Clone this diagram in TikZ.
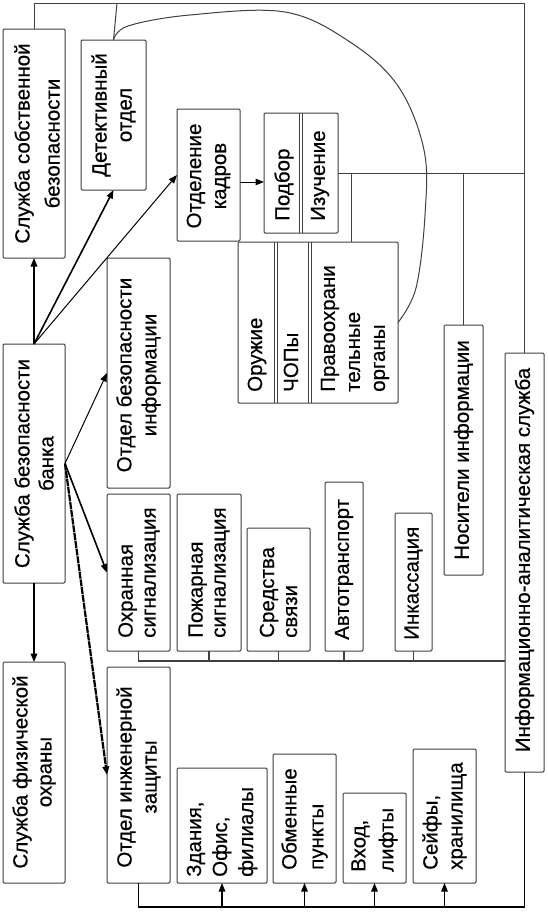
\documentclass[tikz,border=0pt]{standalone}
\usepackage{fontspec}
\setmainfont{Liberation Sans}[FakeBold=0.5]
\usetikzlibrary{arrows.meta,calc}
\tikzset{
  box/.style={draw=black!75, line width=1pt, rounded corners=1.2pt, inner sep=0pt, outer sep=0pt},
  txt/.style={rotate=90, inner sep=0pt, align=center, text=black, font=\fontsize{20.5pt}{25pt}\selectfont},
  txtl/.style={txt, align=left, anchor=west},
  wire/.style={draw=black!75, line width=1pt},
  arr/.style={draw=black, -{Triangle[length=8.5pt,width=6.5pt]}},
  thinarr/.style={arr, line width=1pt},
  thickarr/.style={arr, line width=1.8pt},
}
\begin{document}
\begin{tikzpicture}[x=1pt,y=-1pt]
\useasboundingbox (0,0) rectangle (548,913);
\fill[white] (0,0) rectangle (548,913);

% boxes
\node[box, minimum width=62pt, minimum height=229pt] (sss) at (34,143.5) {};
\node[box, minimum width=65pt, minimum height=150pt] (det) at (113.5,115) {};
\node[box, minimum width=63pt, minimum height=132pt] (kad) at (208.5,175) {};
\node[box, minimum width=74pt, minimum height=120pt] (pi) at (301,173) {};
\node[box, minimum width=160pt, minimum height=161pt] (oru) at (318,322.5) {};
\node[box, minimum width=62pt, minimum height=239pt] (bank) at (34,463.5) {};
\node[box, minimum width=63pt, minimum height=230pt] (info) at (138.5,373) {};
\node[box, minimum width=63pt, minimum height=157pt] (ohr) at (138.5,572.5) {};
\node[box, minimum width=64pt, minimum height=157pt] (poz) at (209,572.5) {};
\node[box, minimum width=63pt, minimum height=123pt] (sv) at (278.5,589.5) {};
\node[box, minimum width=38pt, minimum height=169pt] (avt) at (344,566.5) {};
\node[box, minimum width=37pt, minimum height=138pt] (ink) at (413.5,582) {};
\node[box, minimum width=39pt, minimum height=250pt] (nos) at (463.5,450) {};
\node[box, minimum width=39pt, minimum height=419pt] (ias) at (524.5,562.5) {};
\node[box, minimum width=62pt, minimum height=221pt] (fiz) at (34,772.5) {};
\node[box, minimum width=63pt, minimum height=216pt] (ing) at (138.5,775) {};
\node[box, minimum width=90pt, minimum height=115pt] (zd) at (222,825.5) {};
\node[box, minimum width=63pt, minimum height=129pt] (obm) at (304.5,818.5) {};
\node[box, minimum width=63pt, minimum height=90pt] (vh) at (374.5,838) {};
\node[box, minimum width=63pt, minimum height=134pt] (sf) at (444.5,816) {};

% double dividers
\draw[wire] (299,113) -- (299,233) (302,113) -- (302,233);
\draw[wire] (274,242) -- (274,403) (277,242) -- (277,403);
\draw[wire] (308,242) -- (308,403) (311,242) -- (311,403);

% texts
\node[txt, font=\fontsize{20.5pt}{30pt}\selectfont] (sss-t) at (37,143.5) {Служба собственной\\безопасности};
\node[txt] (det-t) at (113.5,115) {Детективный\\отдел};
\node[txt] (kad-t) at (208.5,176) {Отделение\\кадров};
\node[txtl] (podb-t) at (284,221) {Подбор};
\node[txtl] (izu-t) at (320,221) {Изучение};
\node[txtl] (oru-t) at (257,392) {Оружие};
\node[txtl] (chop-t) at (291,392) {ЧОПы};
\node[txtl] (pravo-t) at (355,392) {Правоохрани\\тельные\\органы};
\node[txt, font=\fontsize{20.5pt}{24pt}\selectfont] (bank-t) at (34,463.5) {Служба безопасности\\банка};
\node[txt] (info-t) at (138.5,375) {Отдел безопасности\\информации};
\node[txtl, font=\fontsize{20.5pt}{23pt}\selectfont] (ohr-t) at (139,638) {Охранная\\сигнализация};
\node[txtl, font=\fontsize{20.5pt}{23pt}\selectfont] (poz-t) at (209,638) {Пожарная\\сигнализация};
\node[txtl, font=\fontsize{20.5pt}{23pt}\selectfont] (sv-t) at (278.5,638) {Средства\\связи};
\node[txtl] (avt-t) at (344,640) {Автотранспорт};
\node[txtl] (ink-t) at (413.5,640) {Инкассация};
\node[txt] (nos-t) at (463.5,450) {Носители информации};
\node[txt] (ias-t) at (524.5,560) {Информационно-аналитическая служба};
\node[txt, font=\fontsize{20.5pt}{24pt}\selectfont] (fiz-t) at (34,772) {Служба физической\\охраны};
\node[txt] (ing-t) at (138.5,777) {Отдел инженерной\\защиты};
\node[txtl, font=\fontsize{20.5pt}{26pt}\selectfont] (zd-t) at (222,877) {Здания,\\Офис,\\филиалы};
\node[txtl, font=\fontsize{20.5pt}{27pt}\selectfont] (obm-t) at (304.5,870) {Обменные\\пункты};
\node[txtl, font=\fontsize{20.5pt}{28pt}\selectfont] (vh-t) at (374.5,872) {Вход,\\лифты};
\node[txtl] (sf-t) at (444.5,870) {Сейфы,\\хранилища};

% coordinates
\coordinate (tr) at (524.5,3);
\coordinate (dtop) at (117,3);
\coordinate (busL) at (138.5,661);
\coordinate (bb) at (524.5,907);

% top frame lines
\draw[wire] (sss.north) |- (tr) -- (ias.north);
\draw[wire] (det.north) -- (dtop);
\draw[wire] plot[smooth, tension=0.6] coordinates {(det.north) (128,26) (190,15) (285,12) (350,42) (398,86) (424,150) (425,215) (416,288) (oru.east)};
\draw[wire] (pi.east) -- (pi.east -| tr);
\draw[wire] (351,173) -- (351,242);
\draw[wire] (nos.north) -- (nos.north |- pi.east);

% signal bus
\draw[wire, line width=1.5pt] (ohr.south) -- (ohr.south |- busL) -- (busL -| ias.west);
\draw[wire, line width=1.2pt] (poz.south) -- (poz.south |- busL);
\draw[wire, line width=1.2pt] (sv.south) -- (sv.south |- busL);
\draw[wire, line width=1.2pt] (avt.south) -- (avt.south |- busL);
\draw[wire, line width=1.2pt] (ink.south) -- (ink.south |- busL);

% bottom bus
\draw[draw=black, line width=1.3pt] (ing.south) |- (bb) -- (ias.south);
\draw[thickarr, line width=1.3pt] (zd.south |- bb) -- (zd.south);
\draw[thickarr, line width=1.3pt] (obm.south |- bb) -- (obm.south);
\draw[thickarr, line width=1.3pt] (vh.south |- bb) -- (vh.south);
\draw[thickarr, line width=1.3pt] (sf.south |- bb) -- (sf.south);

% arrows from bank
\draw[thickarr] (bank.north) -- (sss.south);
\draw[thickarr, line width=1.6pt] (bank.north) -- (det.south);
\draw[thinarr] (bank.north) -- (kad.west);
\draw[arr, line width=1pt] (kad.east |- 0,182) -- (pi.west |- 0,182);
\draw[thinarr] (bank.east) -- (info.west);
\draw[thickarr, line width=1.6pt] (bank.east) -- (ohr.west);
\draw[thickarr, line width=2.2pt, dash pattern=on 7pt off 0.8pt] (bank.east) -- (ing.west);
\draw[thickarr] (bank.south) -- (fiz.north);
\end{tikzpicture}
\end{document}
